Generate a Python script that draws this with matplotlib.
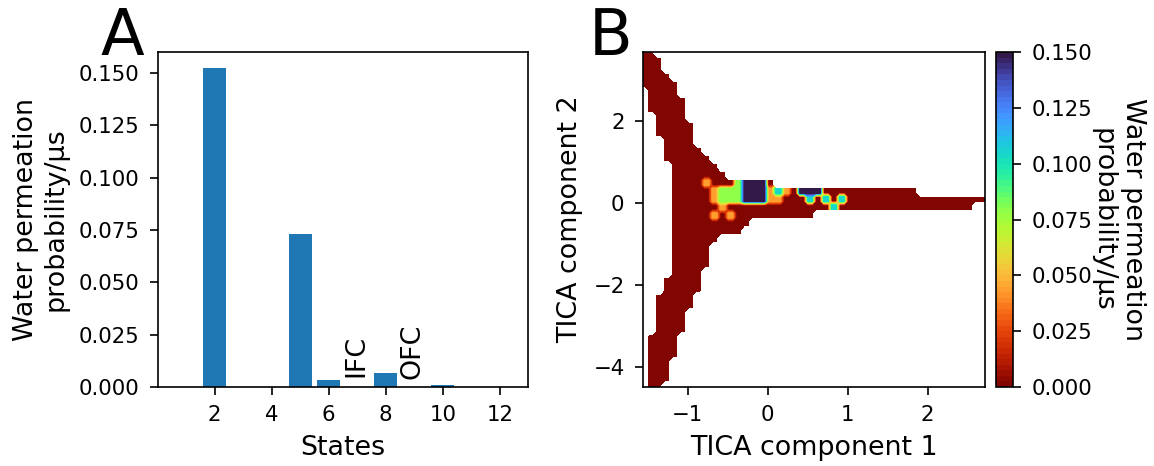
import numpy as np
import matplotlib
matplotlib.use('Agg')
import matplotlib.pyplot as plt

plt.rcParams['font.family'] = ['DejaVu Sans']
plt.rcParams['font.size'] = 15.3
plt.rcParams['axes.labelsize'] = 19.4
plt.rcParams['axes.labelpad'] = 7
plt.rcParams['axes.linewidth'] = 1.2
for a in ['xtick', 'ytick']:
    plt.rcParams[a + '.major.size'] = 5.8
    plt.rcParams[a + '.major.width'] = 1.2
    plt.rcParams[a + '.major.pad'] = 7.5
    plt.rcParams[a + '.labelsize'] = 15.3

# panel A: permeation probability per state
states = np.arange(1, 13)
probs = [0, 0.1524, 0, 0, 0.0733, 0.0032, 0, 0.0067, 0, 0.0008, 0, 0]
annot_labels = ['IFC', 'OFC']
annot_x = [6.5, 8.5]
annot_y = [0.0048, 0.0040]

# panel B: permeation probability binned on TICA space
# bin centres; grid rows run from top (high TICA 2) to bottom
tica1 = np.linspace(-1.56, 2.72, 44)
tica2 = np.linspace(3.69, -4.49, 42)
codes = {'.': np.nan, '0': 0.0, 'o': 0.045, 'g': 0.08, 'c': 0.105, 'p': 0.15}
grid_rows = [
    "00",
    "000",
    "000",
    "0000",
    "00000",
    ".0000",
    ".00000",
    ".00000",
    "..0000",
    "..00000",
    "..00000",
    "...0000",
    "...00000",
    "...000000",
    "....000000",
    "....0000000",
    "....0000o000gppp0",
    "....00000ogggpppoco0ppp000000000000",
    "....00000ogggppp" + "oo000c0c0c" + "000000000000000000",
    "....000000o0000000000000c00000000000000000",
    "....00000o0o0000000000",
    "....0000000000",
    "....000000000",
    "....000000",
    "....00000",
    "....00000",
    "....00000",
    "....0000",
    "...00000",
    "...00000",
    "..00000",
    "..00000",
    "..0000",
    "..0000",
    "..0000",
    ".0000",
    ".0000",
    ".0000",
    ".000",
    ".000",
    ".000",
    ".00",
]

Zc = np.array([[codes[ch] for ch in r.ljust(len(tica1), '.')] for r in grid_rows])
# draw each bin as 2x2 samples so band edges stay sharp
Z = np.kron(Zc, np.ones((2, 2)))
dx = tica1[1] - tica1[0]
dy = tica2[1] - tica2[0]
xf = np.repeat(tica1, 2) + np.tile([-dx / 4, dx / 4], len(tica1))
yf = np.repeat(tica2, 2) + np.tile([-dy / 4, dy / 4], len(tica2))

fig = plt.figure(figsize=(11.54, 4.66), dpi=100)
ax1 = fig.add_axes([0.1369, 0.1695, 0.3206, 0.7189])
ax2 = fig.add_axes([0.5572, 0.1695, 0.2964, 0.7189])
cax = fig.add_axes([0.8631, 0.1695, 0.0147, 0.7189])

ax1.bar(states, probs)
for lab, x, y in zip(annot_labels, annot_x, annot_y):
    ax1.text(x, y, lab, rotation=90, ha='left', va='bottom', fontsize=19.4)
ax1.set_xticks(range(2, 13, 2))
ax1.set_xlabel('States')
ax1.set_ylabel('Water permeation\nprobability/μs')
ax1.text(-0.095, 0.99, 'A', transform=ax1.transAxes, ha='center', va='baseline', fontsize=46)

levels = np.linspace(0, 0.15, 61)
cs = ax2.contourf(xf, yf[::-1], Z[::-1], levels=levels, cmap='turbo_r')
ax2.set_xlim(-1.56, 2.72)
ax2.set_ylim(-4.49, 3.69)
ax2.set_xlabel('TICA component 1')
ax2.set_ylabel('TICA component 2')
ax2.text(-0.094, 0.99, 'B', transform=ax2.transAxes, ha='center', va='baseline', fontsize=46)

cbar = fig.colorbar(cs, cax=cax)
cbar.set_ticks([0, 0.025, 0.05, 0.075, 0.1, 0.125, 0.15])
cbar.outline.set_linewidth(1.2)
cbar.set_label('Water permeation\nprobability/μs', rotation=270, va='bottom', labelpad=-2)

fig.savefig('out.png', dpi=100)
